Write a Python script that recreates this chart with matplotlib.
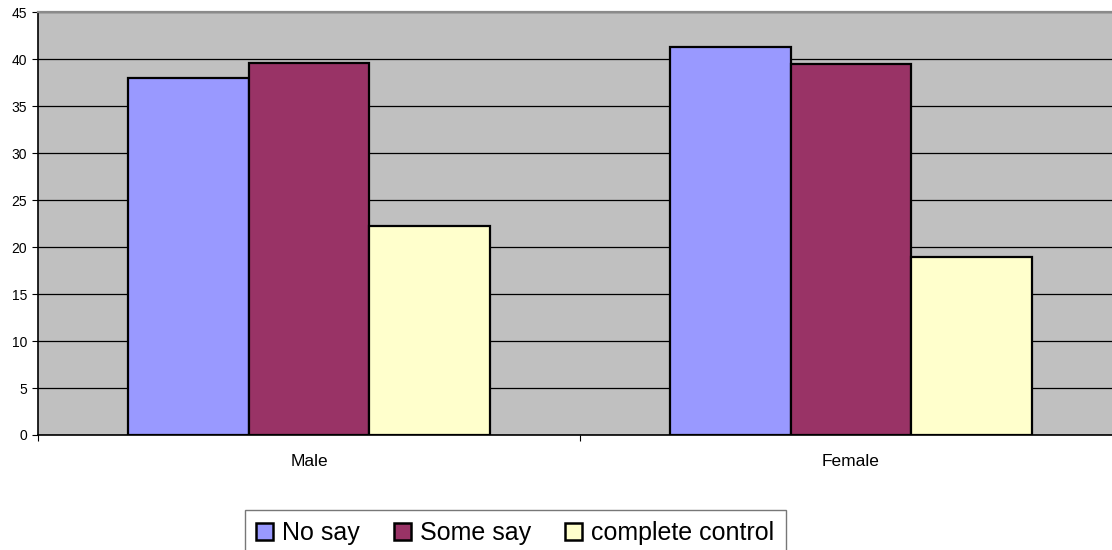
import numpy as np
import matplotlib.pyplot as plt
from matplotlib.patches import Patch

plt.rcParams['font.family'] = ['Liberation Sans', 'DejaVu Sans']

groups = ["Male", "Female"]
series = ["No say", "Some say", "complete control"]
no_say = [38.0, 41.3]
some_say = [39.6, 39.5]
complete_control = [22.2, 19.0]
colors = ["#9999FF", "#993366", "#FFFFCC"]

values = [no_say, some_say, complete_control]

fig = plt.figure(figsize=(11.12, 5.5), dpi=100)
# plot area runs a little past the right edge of the figure
ax = fig.add_axes([38 / 1112, 1 - 435 / 550, 1084 / 1112, 422.7 / 550])
ax.set_facecolor("#C0C0C0")

x = np.arange(len(groups))
width = 1 / 4.5
for i, (vals, c) in enumerate(zip(values, colors)):
    ax.bar(x + (i - 1) * width, vals, width, color=c, edgecolor="black",
           linewidth=1.6, zorder=3)

ax.set_xlim(-0.5, 1.5)
ax.set_ylim(0, 45)
ax.set_yticks(np.arange(0, 46, 5))
ax.yaxis.grid(True, color="black", linewidth=0.9, zorder=0)
ax.set_axisbelow(True)

ax.set_xticks([-0.5, 0.5, 1.5])
ax.set_xticklabels([])
ax.set_xticks(x, minor=True)
ax.set_xticklabels(groups, minor=True)
ax.tick_params(axis="x", which="minor", length=0, pad=14, labelsize=12.5)
ax.tick_params(axis="x", which="major", length=4, direction="out", width=0.8)
ax.tick_params(axis="y", length=4, width=0.8, labelsize=10, pad=4)

ax.spines["top"].set_color("#8a8a8a")
ax.spines["top"].set_linewidth(1.6)
ax.spines["right"].set_visible(False)
ax.spines["left"].set_color("black")
ax.spines["bottom"].set_color("black")
ax.spines["left"].set_linewidth(1.2)
ax.spines["bottom"].set_linewidth(1.2)

handles = [Patch(facecolor=c, edgecolor="black", linewidth=1.8) for c in colors]
leg = fig.legend(handles, series, loc="upper left",
                 bbox_to_anchor=(245 / 1112, 1 - 510 / 550),
                 ncol=3, fontsize=18, frameon=True, fancybox=False,
                 edgecolor="#555555", handlelength=0.68, handleheight=0.68,
                 handletextpad=0.36, columnspacing=1.36, borderpad=0.45,
                 borderaxespad=0)
leg.get_frame().set_linewidth(1.0)

fig.savefig("out.png", dpi=100)
